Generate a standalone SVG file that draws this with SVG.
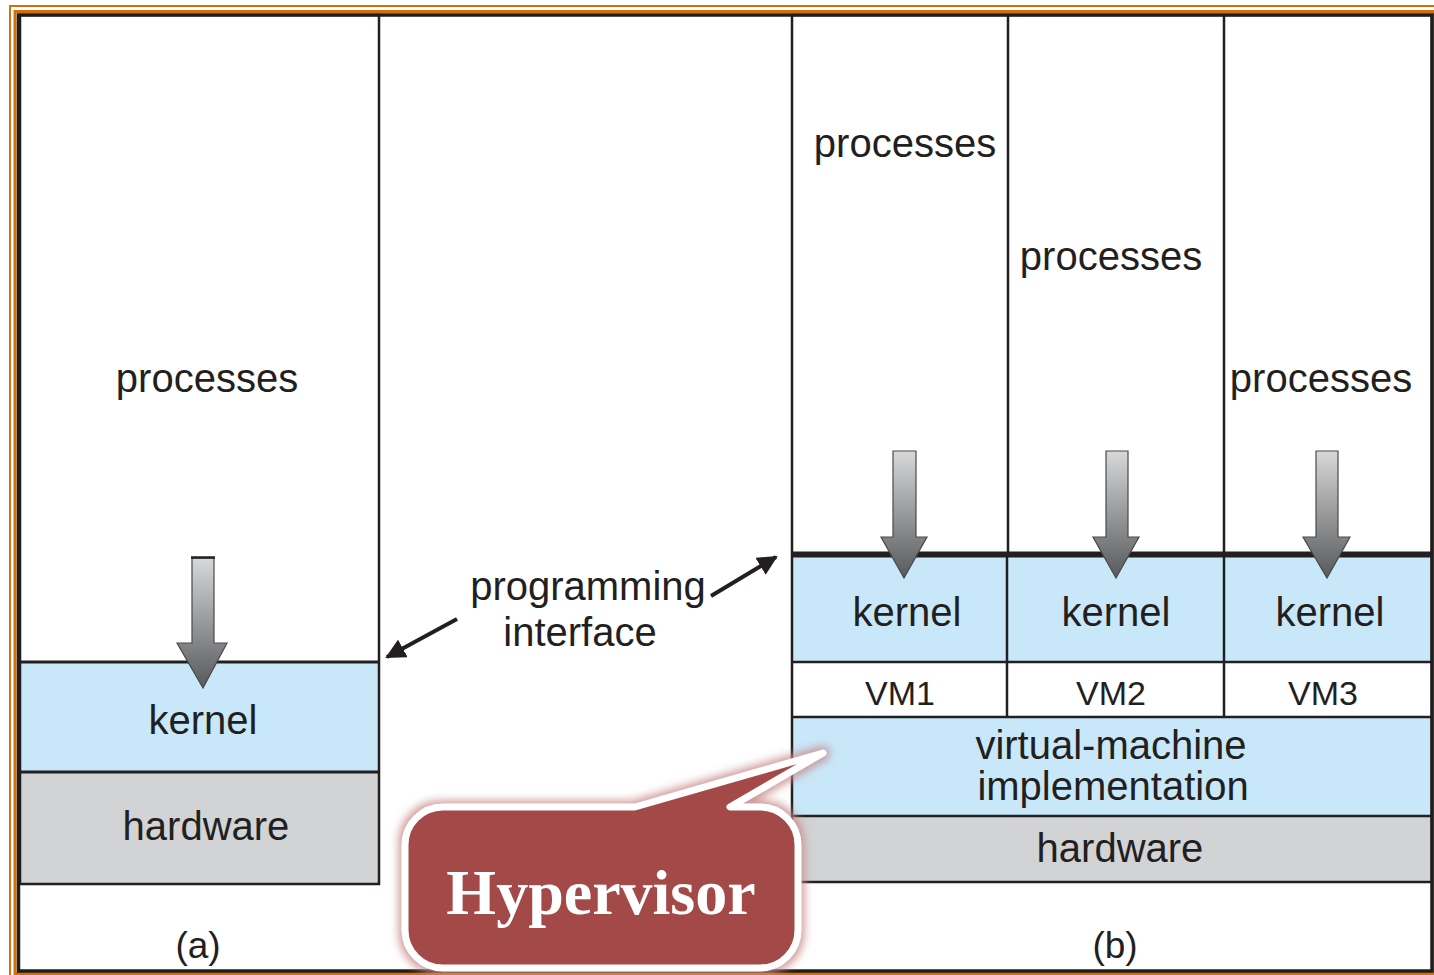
<svg xmlns="http://www.w3.org/2000/svg" width="1434" height="975" viewBox="0 0 1434 975">
  <style>
    .lbl { font-family: "Liberation Sans", Arial, sans-serif; font-size: 40px; fill: #231f20; text-anchor: middle; }
    .vm { font-size: 34px; }
    .cap { font-size: 37px; }
    .ln { stroke: #231f20; stroke-width: 2.5; fill: none; }
    .blue { fill: #c8e8f9; }
    .gray { fill: #d1d3d4; }
    .garrow { fill: url(#shade); stroke: #4a4a4c; stroke-width: 1.2; }
  </style>
  <defs>
    <linearGradient id="shade" x1="0" y1="0" x2="0" y2="1">
      <stop offset="0" stop-color="#d6d8d9"/>
      <stop offset="1" stop-color="#58595b"/>
    </linearGradient>
    <marker id="tip" viewBox="0 0 10 10" refX="9" refY="5" markerWidth="5" markerHeight="5" orient="auto-start-reverse">
      <path d="M0,0 L10,5 L0,10 Z" fill="#231f20"/>
    </marker>
    <filter id="glow" x="-20%" y="-30%" width="140%" height="160%">
      <feMorphology in="SourceAlpha" operator="dilate" radius="3" result="d"/>
      <feGaussianBlur in="d" stdDeviation="4" result="b"/>
      <feFlood flood-color="#c98b8b" flood-opacity="0.85"/>
      <feComposite in2="b" operator="in" result="g"/>
      <feMerge>
        <feMergeNode in="g"/>
        <feMergeNode in="SourceGraphic"/>
      </feMerge>
    </filter>
  </defs>

  <rect width="1434" height="975" fill="#ffffff"/>

  <!-- panel (a): single machine -->
  <g id="panel-a">
    <rect x="20" y="15" width="359" height="646" fill="#ffffff"/>
    <rect class="blue" x="20" y="662" width="359" height="109"/>
    <rect class="gray" x="20" y="772" width="359" height="112"/>
    <rect class="ln" x="20" y="15" width="359" height="869"/>
    <line x1="20" y1="662" x2="379" y2="662" stroke="#231f20" stroke-width="3"/>
    <line x1="20" y1="772" x2="379" y2="772" stroke="#231f20" stroke-width="3"/>
    <text class="lbl" x="207" y="392">processes</text>
    <text class="lbl" x="203" y="734">kernel</text>
    <text class="lbl" x="206" y="840">hardware</text>
    <text class="lbl cap" x="198" y="958">(a)</text>
    <path class="garrow" d="M192,558 H214 V643 H227 L203,688 L177,643 H192 Z"/>
    <line x1="191" y1="557.5" x2="215" y2="557.5" stroke="#231f20" stroke-width="2.5"/>
  </g>

  <!-- panel (b): virtual machines -->
  <g id="panel-b">
    <rect class="blue" x="792" y="556" width="640" height="106"/>
    <rect class="blue" x="792" y="717" width="640" height="99"/>
    <rect class="gray" x="792" y="816" width="640" height="66"/>
    <rect class="ln" x="792" y="15" width="640" height="867"/>
    <line class="ln" x1="1008" y1="15" x2="1008" y2="553"/>
    <line class="ln" x1="1224" y1="15" x2="1224" y2="553"/>
    <line class="ln" x1="1007" y1="556" x2="1007" y2="717"/>
    <line class="ln" x1="1224" y1="556" x2="1224" y2="717"/>
    <line x1="792" y1="554.5" x2="1432" y2="554.5" stroke="#231f20" stroke-width="6"/>
    <line class="ln" x1="792" y1="662" x2="1432" y2="662"/>
    <line class="ln" x1="792" y1="717" x2="1432" y2="717"/>
    <line class="ln" x1="792" y1="816" x2="1432" y2="816"/>
    <text class="lbl" x="905" y="157">processes</text>
    <text class="lbl" x="1111" y="270">processes</text>
    <text class="lbl" x="1321" y="392">processes</text>
    <text class="lbl" x="907" y="626">kernel</text>
    <text class="lbl" x="1116" y="626">kernel</text>
    <text class="lbl" x="1330" y="626">kernel</text>
    <text class="lbl vm" x="900" y="705">VM1</text>
    <text class="lbl vm" x="1111" y="705">VM2</text>
    <text class="lbl vm" x="1323" y="705">VM3</text>
    <text class="lbl" x="1111" y="759">virtual-machine</text>
    <text class="lbl" x="1113" y="800">implementation</text>
    <text class="lbl" x="1120" y="862">hardware</text>
    <text class="lbl cap" x="1115" y="958">(b)</text>
    <path class="garrow" d="M893,451 H916 V537 H927 L904,578 L881,537 H893 Z"/>
    <path class="garrow" d="M1106,451 H1128 V537 H1139 L1116,578 L1093,537 H1106 Z"/>
    <path class="garrow" d="M1316,451 H1338 V537 H1350 L1327,578 L1303,537 H1316 Z"/>
  </g>

  <!-- programming interface label and its two pointers -->
  <g id="programming-interface">
    <text class="lbl" x="588" y="600">programming</text>
    <text class="lbl" x="580" y="646">interface</text>
  </g>
  <g id="connectors">
    <line x1="457" y1="619" x2="387" y2="657" stroke="#231f20" stroke-width="4" marker-end="url(#tip)"/>
    <line x1="711" y1="596" x2="776" y2="557" stroke="#231f20" stroke-width="4" marker-end="url(#tip)"/>
  </g>

  <!-- outer frame -->
  <g id="frame" fill="none">
    <rect x="10" y="6" width="1440" height="1000" stroke="#d2700f" stroke-width="2"/>
    <rect x="15" y="11.5" width="1418" height="962" stroke="#d2700f" stroke-width="3"/>
    <rect x="18.5" y="15" width="1413.5" height="956" stroke="#1f1d1e" stroke-width="3.5"/>
  </g>

  <!-- Hypervisor callout -->
  <g id="hypervisor" filter="url(#glow)">
    <path d="M443,807 H635 L823,753 L730,807 H760 A38,38 0 0 1 798,845 V930 A38,38 0 0 1 760,968 H443 A38,38 0 0 1 405,930 V845 A38,38 0 0 1 443,807 Z"
          fill="#a34a47" stroke="#ffffff" stroke-width="7" stroke-linejoin="round"/>
    <text x="601" y="914" font-family="Liberation Serif, 'Times New Roman', serif" font-weight="bold" font-size="64" fill="#ffffff" text-anchor="middle">Hypervisor</text>
  </g>
</svg>
